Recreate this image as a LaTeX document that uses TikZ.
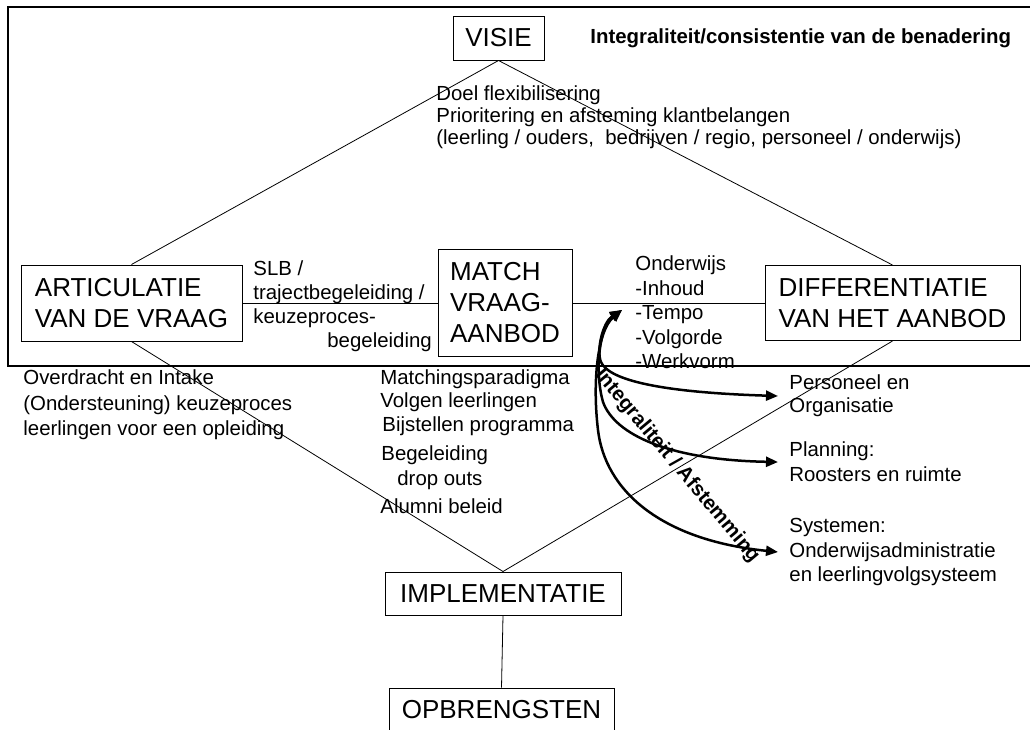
\documentclass[tikz,border=0pt]{standalone}
\usepackage{fontspec}
\setmainfont{Liberation Sans}
\usetikzlibrary{arrows.meta}
\newcommand\boxfont{\fontsize{26}{31}\selectfont}
\newcommand\labfont{\fontsize{20.4}{24.5}\selectfont}
\newcommand\headfont{\fontsize{20.4}{24.5}\selectfont\bfseries}

\begin{document}
\begin{tikzpicture}[x = 1pt, y = -1pt, line width = 0.8pt,
                        block/.style = {draw, line width = 1pt, inner sep = 0pt, align = left, font = \boxfont},
                        note/.style = {inner sep = 0pt, align = left, font = \labfont},
                        sidenote/.style = {inner xsep = 11pt, inner ysep = 0pt, align = left, anchor = west},
                        flowarrow/.style = {line width = 2.5pt, >={Triangle[length = 12pt, width = 10pt]}, <->}]
      \path [use as bounding box] (0, 0) rectangle (1030, 729);
      \clip (0, 0) rectangle (1030, 729);
      \draw [line width = 1.5pt] (8, 7) rectangle (1040, 366);
      \node [block, minimum width = 91pt, minimum height = 44pt] (visie) at (498.5, 38){VISIE};
      \node [block, minimum width = 221pt, minimum height = 76pt] (art) at (131.5, 303){ARTICULATIE\\VAN DE VRAAG};
      \node [block, minimum width = 134pt, minimum height = 107pt] (match) at (505, 303){MATCH\\VRAAG-\\AANBOD};
      \node [block, minimum width = 255pt, minimum height = 75pt] (diff) at (892.5, 303){DIFFERENTIATIE\\VAN HET AANBOD};
      \node [block, minimum width = 236pt, minimum height = 43pt] (impl) at (503, 593.5){IMPLEMENTATIE};
      \node [block, minimum width = 225pt, minimum height = 43pt] (opb) at (501.5, 709.5){OPBRENGSTEN};
      \node [note, font = \headfont, anchor = west] (kop) at (590, 38){Integraliteit/consistentie van de benadering};
      \node [note, font = \fontsize{20.4}{22}\selectfont, anchor = north west] (doel) at (436, 85.4){Doel flexibilisering\\Prioritering en afsteming klantbelangen\\(leerling / ouders,\ \ bedrijven / regio, personeel / onderwijs)};
      \node [note, font = \fontsize{20.4}{24}\selectfont, anchor = north west] (slb) at (253, 260.4){SLB /\\trajectbegeleiding /\\keuzeproces-\\\hspace*{74pt}begeleiding};
      \node [note, anchor = north west] (onderwijs) at (635, 255.4){Onderwijs\\-Inhoud\\-Tempo\\-Volgorde\\-Werkvorm};
      \node [note, font = \fontsize{20.4}{25.5}\selectfont, anchor = north west] (overdracht) at (23, 369.4){Overdracht en Intake\\(Ondersteuning) keuzeproces\\leerlingen voor een opleiding};
      \node [note, font = \fontsize{20.4}{25}\selectfont, anchor = north west] (matching) at (380, 369.4){Matchingsparadigma\\[-2pt]Volgen leerlingen\\[-1pt]\hspace*{2pt}Bijstellen programma\\[4pt]\hspace*{1pt}Begeleiding\\\hspace*{17pt}drop outs\\[3pt]Alumni beleid};
      \node [sidenote, font = \fontsize{20.4}{23}\selectfont] (pers) at (778, 396){Personeel en\\Organisatie};
      \node [sidenote, font = \fontsize{20.4}{25}\selectfont] (plan) at (778, 462){Planning:\\Roosters en ruimte};
      \node [sidenote, font = \fontsize{20.4}{24.5}\selectfont] (sys) at (778, 552){Systemen:\\Onderwijsadministratie\\en leerlingvolgsysteem};
      \node [note, font = \headfont, rotate = -50] (afst) at (677, 466){Integraliteit / Afstemming};
      \coordinate (tip) at (622, 310);
      \draw (visie.south) -- (art.north);
      \draw (visie.south) -- (diff.north);
      \draw (art.east) -- (match.west);
      \draw (match.east) -- (diff.west);
      \draw (art.south) -- (impl.north);
      \draw (diff.south) -- (impl.north);
      \draw (impl.south) -- (opb.north);
      \draw [flowarrow] (tip) .. controls (603, 322) and (596, 350) .. (601, 362) .. controls (608, 378) and (650, 392) .. (pers.west);
      \draw [flowarrow] (tip) .. controls (600, 325) and (594, 370) .. (603, 402) .. controls (615, 435) and (670, 460) .. (plan.west);
      \draw [flowarrow] (tip) .. controls (598, 330) and (592, 380) .. (598, 430) .. controls (605, 490) and (660, 540) .. (sys.west);
    \end{tikzpicture}
\end{document}
